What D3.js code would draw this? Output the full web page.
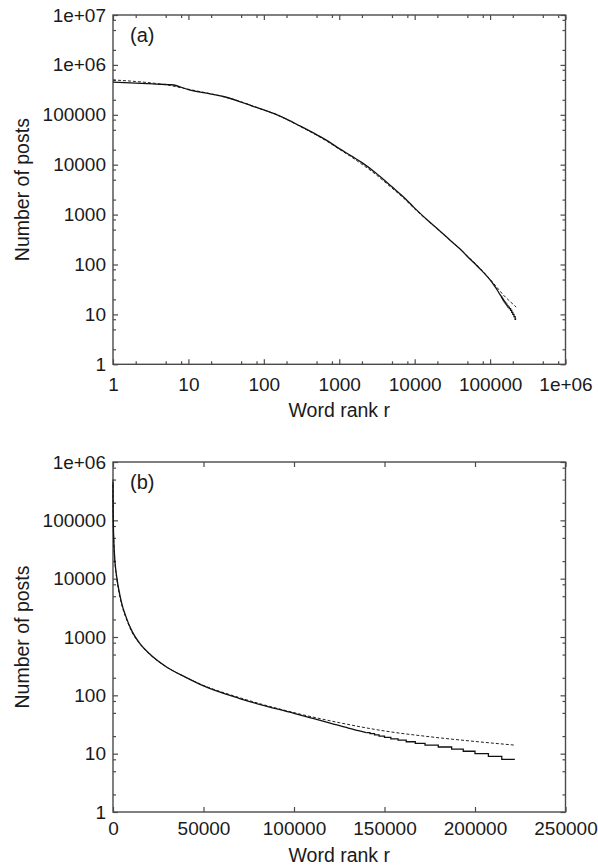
<!DOCTYPE html>
<html lang="en">
<head>
  <meta charset="UTF-8" />
  <title>Word rank vs number of posts</title>
  <script src="https://d3js.org/d3.v7.min.js"></script>
  <style>
    body {
      margin: 0;
      background: #fff;
      font-family: "Liberation Sans", Arial, sans-serif;
    }
    svg {
      display: block;
    }
    .frame {
      fill: none;
      stroke: #4a4a4a;
      stroke-width: 1.4px;
    }
    .tick line {
      stroke: #4a4a4a;
      stroke-width: 1.2px;
    }
    .tick text {
      font-size: 19px;
      fill: #1a1a1a;
    }
    .title {
      font-size: 19.5px;
      fill: #1a1a1a;
    }
    .tag {
      font-size: 20px;
      fill: #1a1a1a;
    }
    .data {
      fill: none;
      stroke: #111;
      stroke-width: 1.3px;
    }
    .fit {
      fill: none;
      stroke: #222;
      stroke-width: 1px;
      stroke-dasharray: 3 2;
    }
  </style>
</head>
<body>
<svg width="598" height="868"></svg>
<script>
// measured curve: smooth head, then integer steps in the tail
const rankSmooth = [1, 2, 3, 5, 6, 10, 20, 30, 50, 70, 100, 150, 200, 300, 500, 700,
  1000, 1500, 2000, 3000, 5000, 7000, 10000, 15000, 20000, 30000, 40000, 50000,
  70000, 100000, 110000, 120000, 130000, 140000];
const postsSmooth = [450000, 432000, 420000, 405000, 400000, 320000, 260000, 230000,
  180000, 150000, 125000, 100000, 82000, 60000, 40000, 30000, 21000, 14500, 11000,
  7000, 3600, 2300, 1350, 760, 520, 300, 205, 145, 88, 49, 40.5, 33.5, 27.5, 23];

const rankTail = [140000, 142000, 144500, 147000, 150000, 153500, 157500, 162000,
  167000, 172400, 179700, 187100, 193500, 200000, 207400, 214800, 222000];
const postsTail = [23, 22, 21, 20, 19, 18, 17, 16, 15, 14, 13, 12, 11, 10, 9, 8, 8];

// fitted curve (dashed)
const rankFit = [1, 2, 3, 5, 10, 20, 30, 50, 70, 100, 150, 200, 300, 500, 700, 1000,
  1500, 2000, 3000, 5000, 7000, 10000, 15000, 20000, 30000, 40000, 50000, 70000,
  100000, 125000, 150000, 175000, 200000, 222000];
const postsFit = [500000, 465000, 440000, 400000, 325000, 262000, 228000, 182000,
  152000, 125000, 99000, 81000, 59000, 39000, 29000, 20500, 13800, 10200, 6500, 3400,
  2200, 1300, 750, 515, 300, 205, 148, 91, 50.5, 34, 24.5, 19.5, 16.2, 14];

// tick labels
const xTicksA = [1, 10, 100, 1000, 10000, 100000, 1e6];
const xLabelsA = ["1", "10", "100", "1000", "10000", "100000", "1e+06"];
const yTicksA = [1, 10, 100, 1000, 1e4, 1e5, 1e6, 1e7];
const yLabelsA = ["1", "10", "100", "1000", "10000", "100000", "1e+06", "1e+07"];
const xTicksB = [0, 50000, 100000, 150000, 200000, 250000];
const xLabelsB = ["0", "50000", "100000", "150000", "200000", "250000"];
const yTicksB = [1, 10, 100, 1000, 1e4, 1e5, 1e6];
const yLabelsB = ["1", "10", "100", "1000", "10000", "100000", "1e+06"];

const zip = (xs, ys) => xs.map((x, i) => ({ r: x, n: ys[i] }));
const smooth = zip(rankSmooth, postsSmooth);
const tail = zip(rankTail, postsTail);
const fit = zip(rankFit, postsFit);

// minor log ticks at 2, 5, 8 of every decade
function minors(lo, hi) {
  const out = [];
  for (let d = lo; d < hi; d *= 10) [2, 5, 8].forEach(m => out.push(m * d));
  return out;
}

const svg = d3.select("svg");
const left = 113, right = 565.5;

function panel(cfg) {
  const { x, y, xTicks, xLabels, yTicks, yLabels, xMinor, yMinor, tag, labelPad } = cfg;
  const g = svg.append("g");
  const [top, bottom] = [y.range()[1], y.range()[0]];
  const fmt = (ticks, labels) => v => labels[ticks.indexOf(v)];

  g.append("g").attr("transform", `translate(0,${bottom})`)
    .call(d3.axisBottom(x).tickValues(xTicks).tickFormat(fmt(xTicks, xLabels))
      .tickSize(-5).tickPadding(labelPad));
  g.append("g").attr("transform", `translate(0,${top})`)
    .call(d3.axisTop(x).tickValues(xTicks).tickFormat("").tickSize(-5));
  g.append("g").attr("transform", `translate(${left},0)`)
    .call(d3.axisLeft(y).tickValues(yTicks).tickFormat(fmt(yTicks, yLabels))
      .tickSize(-5).tickPadding(7));
  g.append("g").attr("transform", `translate(${right},0)`)
    .call(d3.axisRight(y).tickValues(yTicks).tickFormat("").tickSize(-5));

  if (xMinor) {
    g.append("g").attr("transform", `translate(0,${bottom})`)
      .call(d3.axisBottom(x).tickValues(xMinor).tickFormat("").tickSize(-3));
    g.append("g").attr("transform", `translate(0,${top})`)
      .call(d3.axisTop(x).tickValues(xMinor).tickFormat("").tickSize(-3));
  }
  g.append("g").attr("transform", `translate(${left},0)`)
    .call(d3.axisLeft(y).tickValues(yMinor).tickFormat("").tickSize(-3));
  g.append("g").attr("transform", `translate(${right},0)`)
    .call(d3.axisRight(y).tickValues(yMinor).tickFormat("").tickSize(-3));

  g.selectAll(".domain").remove();
  g.selectAll(".tick text").attr("font-family", null).attr("font-size", null);

  g.append("rect").attr("class", "frame")
    .attr("x", left).attr("y", top)
    .attr("width", right - left).attr("height", bottom - top);

  const line = d3.line().x(d => x(d.r)).y(d => y(d.n));
  g.append("path").attr("class", "fit")
    .attr("d", line.curve(d3.curveMonotoneX)(fit));
  g.append("path").attr("class", "data")
    .attr("d", line.curve(d3.curveMonotoneX)(smooth));
  g.append("path").attr("class", "data")
    .attr("d", line.curve(d3.curveStepAfter)(tail));

  g.append("text").attr("class", "tag")
    .attr("x", 130).attr("y", top + 27).text(tag);

  g.append("text").attr("class", "title")
    .attr("text-anchor", "middle")
    .attr("x", (left + right) / 2).attr("y", cfg.xTitleY)
    .text("Word rank r");

  g.append("text").attr("class", "title")
    .attr("text-anchor", "middle")
    .attr("transform", `translate(29,${(top + bottom) / 2}) rotate(-90)`)
    .text("Number of posts");
}

panel({
  x: d3.scaleLog().domain([1, 1e6]).range([left, right]),
  y: d3.scaleLog().domain([1, 1e7]).range([364.3, 15]),
  xTicks: xTicksA, xLabels: xLabelsA, yTicks: yTicksA, yLabels: yLabelsA,
  xMinor: minors(1, 1e6), yMinor: minors(1, 1e7),
  tag: "(a)", labelPad: 13, xTitleY: 417
});

panel({
  x: d3.scaleLinear().domain([0, 250000]).range([left, right]),
  y: d3.scaleLog().domain([1, 1e6]).range([812, 462]),
  xTicks: xTicksB, xLabels: xLabelsB, yTicks: yTicksB, yLabels: yLabelsB,
  xMinor: null, yMinor: minors(1, 1e6),
  tag: "(b)", labelPad: 10, xTitleY: 862
});
</script>
</body>
</html>
